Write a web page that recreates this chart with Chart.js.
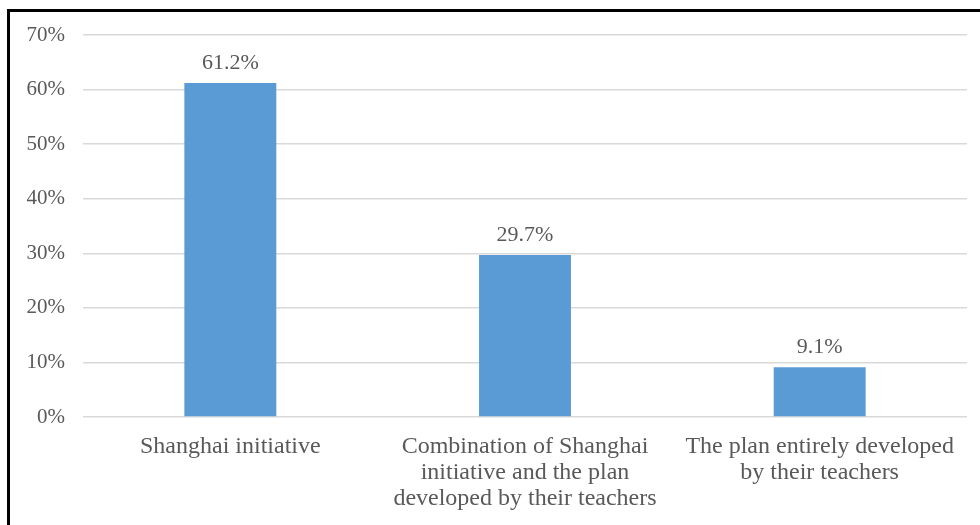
<!DOCTYPE html>
<html>
<head>
<meta charset="utf-8">
<script src="https://cdn.jsdelivr.net/npm/chart.js@4/dist/chart.umd.min.js"></script>
<style>
  html, body { margin: 0; padding: 0; background: #fff; }
  #wrap { position: relative; width: 980px; height: 525px; overflow: hidden; }
  #frame { position: absolute; left: 7px; top: 9px; width: 990px; height: 530px;
           border-left: 3px solid #000; border-top: 3px solid #000; pointer-events: none; }
  canvas { position: absolute; left: 0; top: 0; }
</style>
</head>
<body>
<div id="wrap">
  <canvas id="planChart" width="980" height="525"></canvas>
  <div id="frame"></div>
</div>
<script>
const categories = [
  ['Shanghai initiative'],
  ['Combination of Shanghai', 'initiative and the plan', 'developed by their teachers'],
  ['The plan entirely developed', 'by their teachers']
];
const shares = [61.2, 29.7, 9.1];
const yTicks = [0, 10, 20, 30, 40, 50, 60, 70];

const textColor = '#595959';
const serif = "'Liberation Serif', 'Times New Roman', serif";

// value labels above each bar
const valueLabels = {
  id: 'valueLabels',
  afterDatasetsDraw(chart) {
    const ctx = chart.ctx;
    const meta = chart.getDatasetMeta(0);
    ctx.save();
    ctx.font = '22px ' + serif;
    ctx.fillStyle = textColor;
    ctx.textAlign = 'center';
    ctx.textBaseline = 'alphabetic';
    meta.data.forEach((bar, i) => {
      ctx.fillText(shares[i].toFixed(1) + '%', bar.x, bar.y - 14);
    });
    ctx.restore();
  }
};

const ctx = document.getElementById('planChart').getContext('2d');
new Chart(ctx, {
  type: 'bar',
  data: {
    labels: categories,
    datasets: [{
      data: shares,
      backgroundColor: '#5b9bd5',
      categoryPercentage: 1,
      barPercentage: 0.312
    }]
  },
  options: {
    responsive: false,
    animation: false,
    layout: { padding: { left: 0, right: 13, top: 35, bottom: 0 } },
    plugins: { legend: { display: false }, tooltip: { enabled: false } },
    scales: {
      x: {
        grid: { display: false, drawTicks: false },
        border: { display: false },
        ticks: {
          color: textColor,
          font: { family: serif, size: 24, lineHeight: 1.08 },
          padding: 17,
          maxRotation: 0,
          autoSkip: false
        },
        afterFit(axis) { axis.height = 108; }
      },
      y: {
        min: 0,
        max: 70,
        afterBuildTicks(axis) { axis.ticks = yTicks.map(v => ({ value: v })); },
        grid: { color: '#d9d9d9', lineWidth: 1.5, drawTicks: false },
        border: { display: false },
        ticks: {
          color: textColor,
          font: { family: serif, size: 21 },
          padding: 18,
          callback: v => v + '%'
        },
        afterFit(axis) { axis.width = 83; }
      }
    }
  },
  plugins: [valueLabels]
});
</script>
</body>
</html>
